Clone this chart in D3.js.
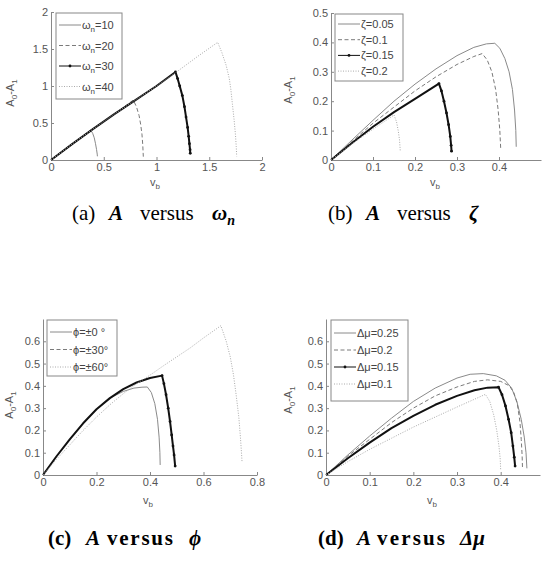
<!DOCTYPE html>
<html>
<head>
<meta charset="utf-8">
<script src="https://cdn.jsdelivr.net/npm/d3@7"></script>
<style>
body { margin:0; background:#fff; }
svg { display:block; }
.tick text { font-family:"Liberation Sans", Arial, sans-serif; font-size:11px; fill:#555; }
.axis path, .axis line { stroke:#888; }
</style>
</head>
<body>
<svg id="graph" width="544" height="561"></svg>
<script>
// panel (a): A versus omega_n
var a_w10_x = [0,0.1,0.2,0.3,0.376,0.395,0.41,0.422,0.432,0.438,0.44]
var a_w10_y = [0,0.11,0.215,0.32,0.405,0.36,0.3,0.22,0.14,0.08,0.05]
var a_w20_x = [0,0.2,0.4,0.6,0.78,0.81,0.835,0.85,0.862,0.87,0.875]
var a_w20_y = [0,0.215,0.42,0.62,0.81,0.72,0.6,0.48,0.35,0.2,0.045]
var a_w30_x = [0,0.2,0.4,0.6,0.8,1.0,1.18,1.2,1.22,1.245,1.265,1.28,1.295,1.305,1.312,1.318,1.32]
var a_w30_y = [0,0.215,0.42,0.62,0.81,1.0,1.19,1.1,1.0,0.87,0.72,0.58,0.44,0.32,0.22,0.14,0.09]
var a_w40_x = [0,0.2,0.4,0.6,0.8,1.0,1.2,1.4,1.58,1.62,1.66,1.69,1.705,1.72,1.735,1.748,1.756,1.76]
var a_w40_y = [0,0.215,0.42,0.62,0.81,1.0,1.2,1.41,1.59,1.45,1.28,1.1,0.95,0.75,0.55,0.35,0.18,0.05]

// panel (b): A versus zeta
var b_z05_x = [0,0.05,0.1,0.15,0.2,0.25,0.3,0.34,0.37,0.39,0.402,0.414,0.424,0.432,0.437,0.44,0.441]
var b_z05_y = [0,0.068,0.135,0.2,0.258,0.31,0.355,0.383,0.395,0.397,0.38,0.345,0.3,0.24,0.17,0.1,0.045]
var b_z10_x = [0,0.05,0.1,0.15,0.2,0.25,0.3,0.34,0.36,0.372,0.383,0.392,0.398,0.402,0.404]
var b_z10_y = [0,0.063,0.125,0.18,0.235,0.283,0.325,0.352,0.362,0.34,0.3,0.24,0.17,0.1,0.04]
var b_z15_x = [0,0.05,0.1,0.15,0.2,0.257,0.263,0.269,0.275,0.28,0.284,0.286,0.287]
var b_z15_y = [0,0.058,0.113,0.163,0.208,0.26,0.235,0.2,0.16,0.12,0.08,0.05,0.03]
var b_z20_x = [0,0.05,0.1,0.15,0.156,0.16,0.163,0.165]
var b_z20_y = [0,0.055,0.105,0.153,0.13,0.1,0.07,0.03]

// panel (c): A versus phi
var c_p00_x = [0,0.05,0.1,0.15,0.2,0.25,0.3,0.34,0.37,0.39,0.405,0.418,0.428,0.434,0.437,0.438]
var c_p00_y = [0,0.083,0.16,0.232,0.295,0.345,0.375,0.39,0.394,0.395,0.37,0.32,0.25,0.17,0.1,0.045]
var c_p30_x = [0,0.05,0.1,0.15,0.2,0.25,0.3,0.35,0.4,0.445,0.452,0.46,0.468,0.475,0.481,0.486,0.49,0.494]
var c_p30_y = [0,0.083,0.16,0.232,0.295,0.345,0.385,0.415,0.435,0.446,0.41,0.36,0.3,0.24,0.18,0.13,0.09,0.04]
var c_p60_x = [0,0.05,0.1,0.15,0.2,0.25,0.3,0.35,0.4,0.45,0.5,0.55,0.6,0.665,0.685,0.7,0.712,0.722,0.732,0.738,0.742,0.744]
var c_p60_y = [0,0.07,0.135,0.2,0.26,0.315,0.365,0.41,0.448,0.49,0.53,0.57,0.615,0.67,0.6,0.53,0.45,0.36,0.26,0.17,0.1,0.06]

// panel (d): A versus delta mu
var d_m25_x = [0,0.05,0.1,0.15,0.2,0.25,0.3,0.33,0.36,0.39,0.41,0.425,0.437,0.447,0.454,0.458,0.46]
var d_m25_y = [0,0.09,0.175,0.255,0.33,0.39,0.435,0.452,0.455,0.445,0.425,0.39,0.33,0.25,0.17,0.1,0.03]
var d_m20_x = [0,0.05,0.1,0.15,0.2,0.25,0.3,0.34,0.37,0.4,0.42,0.43,0.438,0.444,0.447,0.449,0.45]
var d_m20_y = [0,0.085,0.16,0.235,0.3,0.355,0.395,0.42,0.427,0.42,0.4,0.37,0.32,0.24,0.16,0.09,0.027]
var d_m15_x = [0,0.05,0.1,0.15,0.2,0.25,0.3,0.34,0.37,0.395,0.403,0.411,0.418,0.424,0.428,0.431,0.433]
var d_m15_y = [0,0.075,0.145,0.21,0.265,0.315,0.355,0.38,0.392,0.394,0.36,0.31,0.25,0.19,0.13,0.08,0.04]
var d_m10_x = [0,0.05,0.1,0.15,0.2,0.25,0.3,0.34,0.365,0.375,0.384,0.391,0.396,0.399,0.4]
var d_m10_y = [0,0.06,0.115,0.165,0.215,0.26,0.305,0.34,0.362,0.33,0.27,0.2,0.13,0.07,0.02]

var a_labels = ["10","20","30","40"]
var b_labels = ["\u03b6=0.05","\u03b6=0.1","\u03b6=0.15","\u03b6=0.2"]
var c_labels = ["\u03d5=\u00b10 \u00b0","\u03d5=\u00b130\u00b0","\u03d5=\u00b160\u00b0"]
var d_labels = ["\u0394\u03bc=0.25","\u0394\u03bc=0.2","\u0394\u03bc=0.15","\u0394\u03bc=0.1"]

var a_xticks = [0,0.5,1,1.5,2], a_yticks = [0,0.5,1,1.5,2]
var b_xticks = [0,0.1,0.2,0.3,0.4], b_yticks = [0,0.1,0.2,0.3,0.4,0.5]
var c_xticks = [0,0.2,0.4,0.6,0.8], c_yticks = [0,0.1,0.2,0.3,0.4,0.5,0.6]
var d_xticks = [0,0.1,0.2,0.3,0.4], d_yticks = [0,0.1,0.2,0.3,0.4,0.5,0.6]

var styles = {
    solid:{stroke:"#8a8a8a",width:1,dash:null},
    dashed:{stroke:"#7a7a7a",width:1,dash:"4,2.5"},
    black:{stroke:"#111",width:2,dash:null},
    dotted:{stroke:"#aaa",width:1,dash:"1,1.5"}
}

var svg = d3.select("#graph")
svg.append("rect").attr("width",544).attr("height",561).attr("fill","#fff")

var zip = function(xs,ys)
{
    return xs.map(function(x,i){ return [x,ys[i]] })
}

var drawPanel = function(p)
{
    var xscale = d3.scaleLinear().domain(p.xdomain).range(p.xrange)
    var yscale = d3.scaleLinear().domain(p.ydomain).range(p.yrange)
    var g = svg.append("g")

    g.append("g")
    .attr("class","axis")
    .attr("transform","translate(0,"+p.yrange[0]+")")
    .call(d3.axisBottom(xscale).tickValues(p.xticks).tickSizeInner(-3).tickSizeOuter(0).tickPadding(3).tickFormat(function(d){ return String(d) }))

    g.append("g")
    .attr("class","axis")
    .attr("transform","translate("+p.xrange[0]+",0)")
    .call(d3.axisLeft(yscale).tickValues(p.yticks).tickSizeInner(-3).tickSizeOuter(0).tickPadding(3).tickFormat(function(d){ return String(d) }))

    var line = d3.line()
    .x(function(d){ return xscale(d[0]) })
    .y(function(d){ return yscale(d[1]) })

    p.series.forEach(function(s)
    {
        var st = styles[s.style]
        var pts = zip(s.x,s.y)
        g.append("path")
        .attr("d",line(pts))
        .attr("fill","none")
        .attr("stroke",st.stroke)
        .attr("stroke-width",st.width)
        .attr("stroke-dasharray",st.dash)
        .attr("stroke-linejoin","round")
        if(s.style=="black")
        {
            var peak = d3.maxIndex(s.y)
            g.selectAll(null)
            .data(pts.slice(peak))
            .enter()
            .append("circle")
            .attr("cx",function(d){ return xscale(d[0]) })
            .attr("cy",function(d){ return yscale(d[1]) })
            .attr("r",1.4)
            .attr("fill","#111")
        }
    })

    // y label A0-A1
    var yl = g.append("text")
    .attr("transform","translate("+p.ylab[0]+","+p.ylab[1]+") rotate(-90)")
    .attr("text-anchor","middle")
    .style("font-family","Liberation Sans, Arial, sans-serif")
    .style("font-size","11px")
    .attr("fill","#555")
    yl.append("tspan").text("A")
    yl.append("tspan").attr("dy",3).style("font-size","8px").text("0")
    yl.append("tspan").attr("dy",-3).text("-A")
    yl.append("tspan").attr("dy",3).style("font-size","8px").text("1")

    var xl = g.append("text")
    .attr("x",p.xlab[0]).attr("y",p.xlab[1])
    .attr("text-anchor","middle")
    .style("font-family","Liberation Sans, Arial, sans-serif")
    .style("font-size","11px")
    .attr("fill","#555")
    xl.append("tspan").text("v")
    xl.append("tspan").attr("dy",3).style("font-size","8px").text("b")

    // legend
    var lg = p.legend
    g.append("rect")
    .attr("x",lg.x).attr("y",lg.y).attr("width",lg.w).attr("height",lg.h)
    .attr("fill","#fff").attr("stroke","#888").attr("stroke-width",1)
    p.series.forEach(function(s,i)
    {
        var key = s.key || s.style
        var st = styles[key]
        var yy = lg.y + lg.top + i*lg.step
        g.append("line")
        .attr("x1",lg.x+3).attr("x2",lg.x+3+lg.len)
        .attr("y1",yy).attr("y2",yy)
        .attr("stroke",st.stroke)
        .attr("stroke-width",key=="black" ? 1 : st.width)
        .attr("stroke-dasharray",st.dash)
        if(key=="black")
        {
            g.append("circle").attr("cx",lg.x+3+lg.len/2).attr("cy",yy).attr("r",1.4).attr("fill","#111")
        }
        var t = g.append("text")
        .attr("x",lg.x+4+lg.len).attr("y",yy+4)
        .style("font-family","Liberation Sans, Arial, sans-serif")
        .style("font-size","11px")
        .attr("fill","#444")
        if(p.omega)
        {
            t.append("tspan").text("\u03c9")
            t.append("tspan").attr("dy",3).style("font-size","8px").text("n")
            t.append("tspan").attr("dy",-3).text("="+s.label)
        }
        else
        {
            t.text(s.label)
        }
    })
}

drawPanel({
    xdomain:[0,2], xrange:[51,262], ydomain:[0,2], yrange:[160,12],
    xticks:a_xticks, yticks:a_yticks, ylab:[14,93], xlab:[155,186], omega:true,
    legend:{x:56,y:13,w:66,h:86,top:12,step:20.5,len:22},
    series:[
        {x:a_w10_x,y:a_w10_y,style:"solid",label:a_labels[0]},
        {x:a_w20_x,y:a_w20_y,style:"dashed",label:a_labels[1]},
        {x:a_w30_x,y:a_w30_y,style:"black",label:a_labels[2]},
        {x:a_w40_x,y:a_w40_y,style:"dotted",label:a_labels[3]}
    ]
})

drawPanel({
    xdomain:[0,0.5], xrange:[331,541], ydomain:[0,0.5], yrange:[160,13],
    xticks:b_xticks, yticks:b_yticks, ylab:[292,90], xlab:[435,186],
    legend:{x:335,y:14,w:68,h:67,top:10,step:15.7,len:22},
    series:[
        {x:b_z05_x,y:b_z05_y,style:"solid",label:b_labels[0]},
        {x:b_z10_x,y:b_z10_y,style:"dashed",label:b_labels[1]},
        {x:b_z15_x,y:b_z15_y,style:"black",label:b_labels[2]},
        {x:b_z20_x,y:b_z20_y,style:"dotted",label:b_labels[3]}
    ]
})

drawPanel({
    xdomain:[0,0.8], xrange:[43,257], ydomain:[0,0.7], yrange:[475,319],
    xticks:c_xticks, yticks:c_yticks, ylab:[13,405], xlab:[148,504],
    legend:{x:47,y:320,w:70,h:56,top:12,step:17.5,len:22},
    series:[
        {x:c_p00_x,y:c_p00_y,style:"solid",label:c_labels[0]},
        {x:c_p30_x,y:c_p30_y,style:"black",key:"dashed",label:c_labels[1]},
        {x:c_p60_x,y:c_p60_y,style:"dotted",label:c_labels[2]}
    ]
})

drawPanel({
    xdomain:[0,0.49], xrange:[326,540], ydomain:[0,0.7], yrange:[475,319],
    xticks:d_xticks, yticks:d_yticks, ylab:[292,400], xlab:[432,504],
    legend:{x:331,y:320,w:77,h:81,top:13,step:17,len:22},
    series:[
        {x:d_m25_x,y:d_m25_y,style:"solid",label:d_labels[0]},
        {x:d_m20_x,y:d_m20_y,style:"dashed",label:d_labels[1]},
        {x:d_m15_x,y:d_m15_y,style:"black",label:d_labels[2]},
        {x:d_m10_x,y:d_m10_y,style:"dotted",label:d_labels[3]}
    ]
})

// captions, each part placed at its own x
var caption = function(y,bold,parts)
{
    var t = svg.append("text")
    .attr("y",y)
    .style("font-family","Liberation Serif, Times New Roman, serif")
    .style("font-size","21px")
    .style("font-weight",bold ? "bold" : "normal")
    .attr("fill","#000")
    parts.forEach(function(pt)
    {
        var s = t.append("tspan").text(pt.t)
        if(pt.x != null) s.attr("x",pt.x).attr("y",y)
        if(pt.len) s.attr("textLength",pt.len).attr("lengthAdjust","spacing")
        if(pt.i) s.style("font-style","italic")
        if(pt.b) s.style("font-weight","bold")
        if(pt.sub) s.attr("dy",5).style("font-size","14px")
    })
}

caption(220,false,[{t:"(a)",x:72},{t:"A",x:109,i:1,b:1},{t:"versus",x:140},{t:"\u03c9",x:212,i:1,b:1},{t:"n",i:1,b:1,sub:1}])
caption(220,false,[{t:"(b)",x:328},{t:"A",x:366,i:1,b:1},{t:"versus",x:397},{t:"\u03b6",x:469,i:1,b:1}])
caption(545,true,[{t:"(c)",x:48},{t:"A",x:86,i:1},{t:"versus",x:107,len:66},{t:"\u03d5",x:189,i:1}])
caption(545,true,[{t:"(d)",x:318},{t:"A",x:357,i:1},{t:"versus",x:377,len:68},{t:"\u0394\u03bc",x:460,i:1}])
</script>
</body>
</html>
